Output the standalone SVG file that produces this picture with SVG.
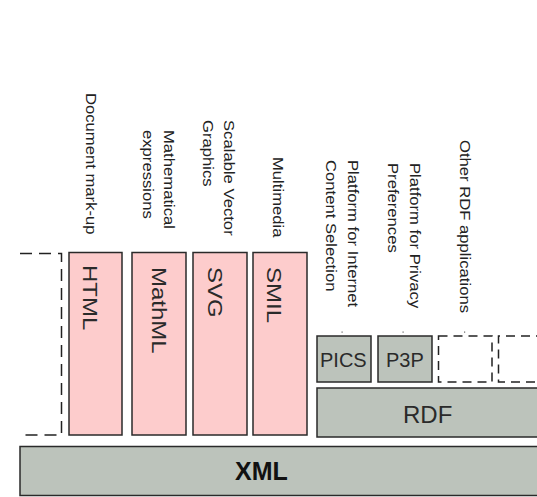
<svg xmlns="http://www.w3.org/2000/svg" width="537" height="497" viewBox="0 0 537 497">
<style>
.pink{fill:#fdcccc;stroke:#2a2a2a;stroke-width:1.5}
.grey{fill:#bcc3bb;stroke:#2a2a2a;stroke-width:1.5}
.dash{fill:none;stroke:#222;stroke-width:1.5;stroke-dasharray:12 7}
.dash2{fill:none;stroke:#222;stroke-width:1.5;stroke-dasharray:9 6}
.lbl{font-family:"Liberation Sans",Arial,sans-serif;font-size:14px;fill:#222}
.box{font-family:"Liberation Sans",Arial,sans-serif;font-size:20px;fill:#2a2a2a}
.big{font-family:"Liberation Sans",Arial,sans-serif;font-size:24px;fill:#2a2a2a}
.xml{font-family:"Liberation Sans",Arial,sans-serif;font-size:25px;font-weight:bold;fill:#111}
.dot{fill:#666}
</style>
<rect width="537" height="497" fill="#ffffff"/>
<g id="xml">
<rect class="grey" x="20" y="446.5" width="530" height="49"/>
<text class="xml" x="235" y="480">XML</text>
</g>
<g id="other-left">
<path class="dash" d="M20 253.5 H61.5 V435 H20"/>
</g>
<g id="html">
<rect class="pink" x="69" y="252.5" width="53" height="182.5"/>
<text class="box" transform="translate(83,265) rotate(90) scale(1.2,1)">HTML</text>
<text class="lbl" transform="translate(86,93) rotate(90) scale(1.19,1)">Document mark-up</text>
</g>
<g id="mathml">
<rect class="pink" x="132" y="252.5" width="54" height="182.5"/>
<text class="box" transform="translate(152,267) rotate(90) scale(1.2,1)">MathML</text>
<text class="lbl" transform="translate(163.5,130) rotate(90) scale(1.19,1)">Mathematical</text>
<text class="lbl" transform="translate(142.5,130) rotate(90) scale(1.19,1)">expressions</text>
</g>
<g id="svg">
<rect class="pink" x="193" y="252.5" width="54" height="182.5"/>
<text class="box" transform="translate(208,267) rotate(90) scale(1.2,1)">SVG</text>
<text class="lbl" transform="translate(224,120) rotate(90) scale(1.19,1)">Scalable Vector</text>
<text class="lbl" transform="translate(203,120) rotate(90) scale(1.19,1)">Graphics</text>
</g>
<g id="smil">
<rect class="pink" x="253" y="252.5" width="54" height="182.5"/>
<text class="box" transform="translate(267,267) rotate(90) scale(1.2,1)">SMIL</text>
<text class="lbl" transform="translate(273,157) rotate(90) scale(1.19,1)">Multimedia</text>
</g>
<g id="rdf">
<rect class="grey" x="317" y="388" width="230" height="49"/>
<text class="big" x="403" y="423">RDF</text>
</g>
<g id="pics">
<rect class="grey" x="317" y="336" width="54" height="46"/>
<text class="box" x="320" y="367">PICS</text>
<text class="lbl" transform="translate(347.5,160) rotate(90) scale(1.19,1)">Platform for Internet</text>
<text class="lbl" transform="translate(325.5,160) rotate(90) scale(1.19,1)">Content Selection</text>
</g>
<g id="p3p">
<rect class="grey" x="378" y="336" width="54" height="46"/>
<text class="box" x="386" y="367">P3P</text>
<text class="lbl" transform="translate(409.5,163) rotate(90) scale(1.19,1)">Platform for Privacy</text>
<text class="lbl" transform="translate(387.5,163) rotate(90) scale(1.19,1)">Preferences</text>
</g>
<g id="other-rdf">
<rect class="dash2" x="438.5" y="336" width="53.5" height="46"/>
<path class="dash2" d="M545 336 H498.5 V382 H545"/>
<text class="lbl" transform="translate(460,140) rotate(90) scale(1.19,1)">Other RDF applications</text>
</g>
<g id="connectors">
<rect class="dot" x="341.5" y="331.5" width="1.2" height="1.2"/>
<rect class="dot" x="402.5" y="331.5" width="1.2" height="1.2"/>
<rect class="dot" x="464" y="331.5" width="1.2" height="1.2"/>
</g>
</svg>
